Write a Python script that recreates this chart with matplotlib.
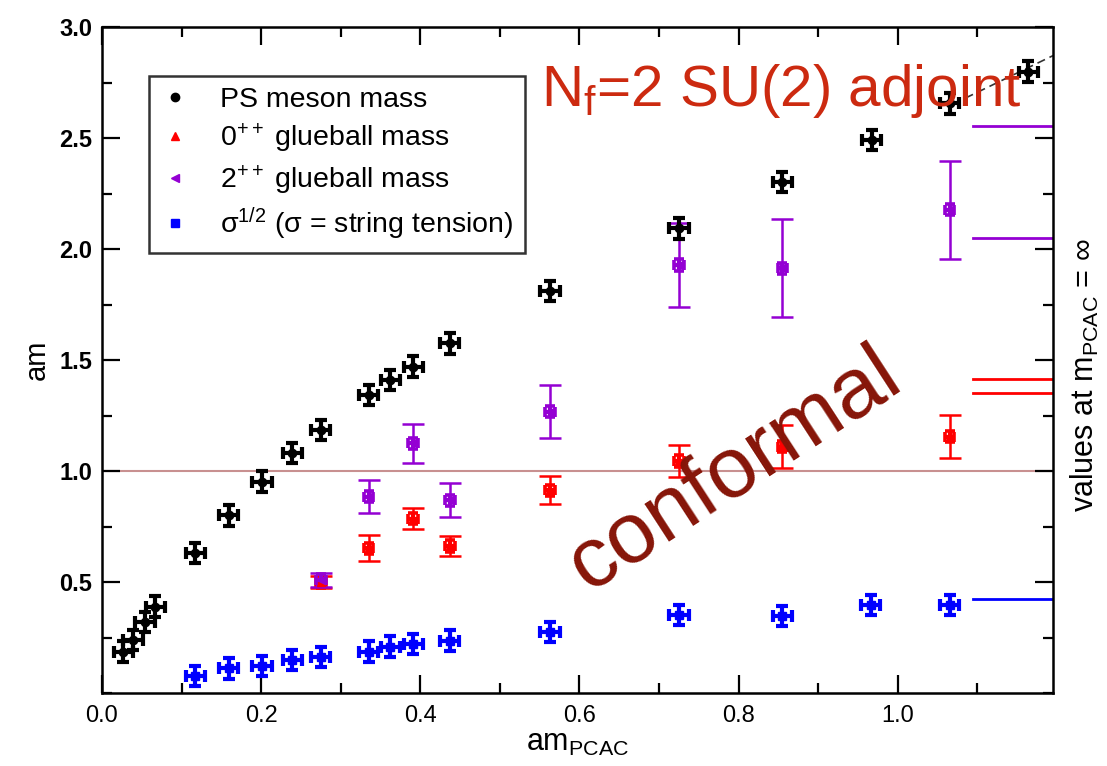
import matplotlib
matplotlib.use("Agg")
import matplotlib.pyplot as plt
from matplotlib.lines import Line2D
from matplotlib.ticker import MultipleLocator

plt.rcParams["font.family"] = ["Liberation Sans", "DejaVu Sans"]
plt.rcParams["mathtext.fontset"] = "custom"
plt.rcParams["mathtext.rm"] = "Liberation Sans"
plt.rcParams["mathtext.it"] = "Liberation Sans:italic"
plt.rcParams["mathtext.bf"] = "Liberation Sans:bold"

# PS meson mass
ps_x = [0.027, 0.039, 0.054, 0.067, 0.117, 0.159, 0.201, 0.239, 0.275, 0.335,
        0.362, 0.391, 0.437, 0.563, 0.725, 0.855, 0.967, 1.065, 1.164]
ps_y = [0.186, 0.239, 0.320, 0.389, 0.630, 0.800, 0.952, 1.080, 1.185, 1.342,
        1.410, 1.470, 1.575, 1.812, 2.093, 2.303, 2.490, 2.656, 2.799]

# sqrt(string tension)
sig_x = [0.117, 0.159, 0.201, 0.239, 0.275, 0.335, 0.362, 0.391, 0.437, 0.563,
         0.725, 0.855, 0.966, 1.065]
sig_y = [0.077, 0.111, 0.122, 0.149, 0.161, 0.186, 0.209, 0.221, 0.236, 0.276,
         0.351, 0.347, 0.396, 0.396]

# 0++ glueball
g0_x = [0.275, 0.335, 0.391, 0.437, 0.563, 0.725, 0.855, 1.065]
g0_y = [0.500, 0.652, 0.786, 0.662, 0.914, 1.045, 1.110, 1.155]
g0_err = [0.025, 0.058, 0.047, 0.045, 0.064, 0.070, 0.095, 0.096]

# 2++ glueball
g2_x = [0.275, 0.335, 0.391, 0.437, 0.563, 0.725, 0.855, 1.065]
g2_y = [0.509, 0.884, 1.125, 0.869, 1.267, 1.928, 1.913, 2.176]
g2_err = [0.032, 0.075, 0.088, 0.077, 0.120, 0.190, 0.220, 0.220]

# values at m_PCAC = infinity (right margin)
inf_g2 = [2.552, 2.049]
inf_g0 = [1.413, 1.353]
inf_sig = [0.422]

# dashed fit through the last PS points
fit_x = [1.085, 1.195]
fit_y = [2.680, 2.871]

XMAX = 1.195
INF_X0 = 1.095

PURPLE = "#9400d3"
RED = "#ff0000"
BLUE = "#0000ff"

fig = plt.figure(figsize=(11.07, 7.66), dpi=100)
ax = fig.add_axes([102 / 1107, 1 - 693 / 766, 951 / 1107, 666 / 766])
ax.set_xlim(0, XMAX)
ax.set_ylim(0, 3.0)

ax.axhline(1.0, color="#c89090", lw=1.5, zorder=1)
for v in inf_g2:
    ax.plot([INF_X0, XMAX], [v, v], color=PURPLE, lw=2, zorder=2)
for v in inf_g0:
    ax.plot([INF_X0, XMAX], [v, v], color=RED, lw=2, zorder=2)
for v in inf_sig:
    ax.plot([INF_X0, XMAX], [v, v], color=BLUE, lw=2, zorder=2)
ax.plot(fit_x, fit_y, color="#333333", lw=1.2, ls=(0, (5, 3)), zorder=2)


def cross_points(x, y, color, marker):
    ax.errorbar(x, y, xerr=0.012, yerr=0.046, fmt=marker, color=color, ms=6,
                elinewidth=3, capsize=4.5, capthick=3, zorder=4)


def glue_points(x, y, err, color, marker):
    ax.errorbar(x, y, yerr=err, fmt="none", ecolor=color, elinewidth=1.8,
                capsize=8, capthick=1.8, zorder=3)
    ax.errorbar(x, y, xerr=0.006, yerr=0.025, fmt=marker, color=color, ms=6,
                elinewidth=3, capsize=3.5, capthick=2.6, zorder=3)


glue_points(g0_x, g0_y, g0_err, RED, "^")
glue_points(g2_x, g2_y, g2_err, PURPLE, "<")
cross_points(ps_x, ps_y, "black", "o")
cross_points(sig_x, sig_y, BLUE, "s")

ax.xaxis.set_minor_locator(MultipleLocator(0.1))
ax.yaxis.set_minor_locator(MultipleLocator(0.25))
ax.set_xticks([0.0, 0.2, 0.4, 0.6, 0.8, 1.0])
ax.set_xticklabels(["0.0", "0.2", "0.4", "0.6", "0.8", "1.0"], fontsize=17)
ax.set_yticks([0.5, 1.0, 1.5, 2.0, 2.5, 3.0])
ax.set_yticklabels(["0.5", "1.0", "1.5", "2.0", "2.5", "3.0"], fontsize=17, fontweight="bold")
ax.tick_params(which="both", direction="in", top=True, right=True, width=1.6)
ax.tick_params(which="major", length=13)
ax.tick_params(which="minor", length=7)
ax.tick_params(axis="x", pad=9)
ax.tick_params(axis="y", pad=7)
for s in ax.spines.values():
    s.set_linewidth(1.8)

ax.set_xlabel("am$_{\\mathrm{PCAC}}$", fontsize=22, labelpad=0)
ax.set_ylabel("am", fontsize=21, labelpad=6)

handles = [
    Line2D([], [], ls="none", marker="o", color="black", ms=6),
    Line2D([], [], ls="none", marker="^", color=RED, ms=6),
    Line2D([], [], ls="none", marker="<", color=PURPLE, ms=6),
    Line2D([], [], ls="none", marker="s", color=BLUE, ms=6),
]
labels = [
    "PS meson mass",
    "0$^{++}$ glueball mass",
    "2$^{++}$ glueball mass",
    "σ$^{1/2}$ (σ = string tension)",
]
leg = ax.legend(handles, labels, loc="upper left", bbox_to_anchor=(0.0497, 0.927),
                fontsize=20.5, frameon=True, fancybox=False, borderaxespad=0,
                handlelength=1.0, handletextpad=1.1, labelspacing=0.3,
                borderpad=0.4)
leg.get_frame().set_edgecolor("black")
leg.get_frame().set_linewidth(1.8)

ax.text(0.552, 2.645, "N$_{\\mathrm{f}}$=2 SU(2) adjoint", fontsize=42, color="#cc2a10",
        ha="left", va="baseline", zorder=6)
ax.text(0.795, 1.0, "conformal", fontsize=62, color="#861508", rotation=33,
        rotation_mode="anchor", ha="center", va="center", zorder=6)

fig.text(0.980, 0.51, "values at m$_{\\mathrm{PCAC}}$ = ∞", fontsize=22, rotation=90,
         ha="center", va="center")

fig.savefig("out.png", dpi=100)
